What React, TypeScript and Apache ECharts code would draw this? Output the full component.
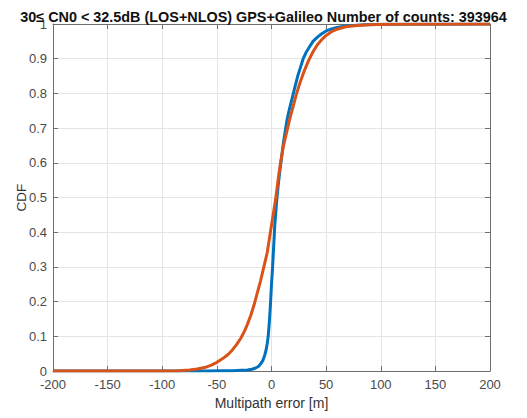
import React, { useEffect, useRef } from "react";
import * as echarts from "echarts";

const titleText = "30\u2264 CN0 < 32.5dB (LOS+NLOS) GPS+Galileo Number of counts: 393964";
const xAxisName = "Multipath error [m]";
const yAxisName = "CDF";

const blueX = [-200, -60, -45, -35, -28, -22, -18, -15, -12, -10, -8, -7, -6, -5, -4, -3, -2, -1, 0, 1, 2, 3, 4, 5, 6, 7, 8, 9, 10, 11, 12, 13, 14, 16, 18, 20, 22, 24, 26, 29, 32, 35, 38, 42, 46, 50, 55, 60, 68, 75, 85, 100, 200];
const blueY = [0, 0, 0.0005, 0.001, 0.002, 0.003, 0.005, 0.008, 0.013, 0.02, 0.03, 0.038, 0.048, 0.06, 0.078, 0.1, 0.14, 0.19, 0.25, 0.3, 0.36, 0.42, 0.46, 0.5, 0.53, 0.56, 0.585, 0.61, 0.635, 0.66, 0.68, 0.7, 0.72, 0.75, 0.775, 0.8, 0.825, 0.85, 0.87, 0.9, 0.92, 0.935, 0.95, 0.962, 0.972, 0.98, 0.986, 0.99, 0.994, 0.996, 0.998, 0.999, 1];

const orangeX = [-200, -100, -85, -75, -68, -60, -55, -50, -45, -40, -36, -32, -28, -25, -22, -19, -16, -13, -10, -7, -4, -2, 0, 2, 4, 6, 8, 11, 14, 17, 20, 23, 26, 30, 34, 38, 42, 46, 50, 55, 60, 68, 78, 90, 110, 200];
const orangeY = [0, 0, 0.001, 0.003, 0.006, 0.011, 0.017, 0.025, 0.035, 0.047, 0.06, 0.076, 0.095, 0.113, 0.135, 0.16, 0.19, 0.225, 0.26, 0.3, 0.34, 0.38, 0.42, 0.46, 0.5, 0.55, 0.595, 0.65, 0.69, 0.73, 0.765, 0.8, 0.83, 0.865, 0.895, 0.92, 0.94, 0.955, 0.967, 0.978, 0.985, 0.992, 0.996, 0.998, 0.999, 1];

const font = "Liberation Sans, Arial, Helvetica, sans-serif";
const axisColor = "#6e6e6e";
const labelColor = "#4a4a4a";

export default function App() {
  const ref = useRef<HTMLDivElement>(null);
  useEffect(() => {
    if (!ref.current) return;
    const chart = echarts.init(ref.current, null, { renderer: "svg" });
    const blue = blueX.map((x, i) => [x, blueY[i]]);
    const orange = orangeX.map((x, i) => [x, orangeY[i]]);
    const hiddenAxisCommon = {
      axisLine: { show: true, onZero: false, lineStyle: { color: axisColor, width: 1 } },
      axisTick: { show: true, inside: true, length: 5, lineStyle: { color: axisColor } },
      axisLabel: { show: false },
      splitLine: { show: false },
    };
    chart.setOption({
      animation: false,
      title: {
        text: titleText,
        left: "center",
        top: 5,
        textStyle: { fontFamily: font, fontSize: 14.4, fontWeight: "bold", color: "#111" },
      },
      grid: { left: 53, right: 37, top: 24, bottom: 47 },
      xAxis: [
        {
          type: "value",
          min: -200,
          max: 200,
          interval: 50,
          name: xAxisName,
          nameLocation: "middle",
          nameGap: 25,
          nameMoveOverlap: false,
          nameTextStyle: { fontFamily: font, fontSize: 14, color: "#333" },
          axisLine: { show: true, onZero: false, lineStyle: { color: axisColor } },
          axisTick: { show: true, inside: true, length: 5, lineStyle: { color: axisColor } },
          axisLabel: { fontFamily: font, fontSize: 13, color: labelColor, margin: 7 },
          splitLine: { show: true, lineStyle: { color: "#e4e4e4", width: 1 } },
        },
        {
          type: "value",
          position: "top",
          min: -200,
          max: 200,
          interval: 50,
          ...hiddenAxisCommon,
        },
      ],
      yAxis: [
        {
          type: "value",
          min: 0,
          max: 1,
          interval: 0.1,
          name: yAxisName,
          nameLocation: "middle",
          nameGap: 25,
          nameMoveOverlap: false,
          nameTextStyle: { fontFamily: font, fontSize: 13.5, color: "#333" },
          axisLine: { show: true, onZero: false, lineStyle: { color: axisColor } },
          axisTick: { show: true, inside: true, length: 5, lineStyle: { color: axisColor } },
          axisLabel: {
            fontFamily: font,
            fontSize: 13,
            color: labelColor,
            margin: 6,
            formatter: (v: number) => (v === 0 ? "0" : v === 1 ? "1" : v.toFixed(1)),
          },
          splitLine: { show: true, lineStyle: { color: "#e4e4e4", width: 1 } },
        },
        {
          type: "value",
          position: "right",
          min: 0,
          max: 1,
          interval: 0.1,
          ...hiddenAxisCommon,
        },
      ],
      series: [
        {
          type: "line",
          data: blue,
          showSymbol: false,
          smooth: false,
          lineStyle: { color: "#0072BD", width: 3, join: "round" },
          itemStyle: { color: "#0072BD" },
          z: 2,
        },
        {
          type: "line",
          data: orange,
          showSymbol: false,
          smooth: false,
          lineStyle: { color: "#D95319", width: 3, join: "round" },
          itemStyle: { color: "#D95319" },
          z: 3,
        },
      ],
    });
    return () => chart.dispose();
  }, []);
  return <div ref={ref} style={{ width: 527, height: 418, position: "absolute", left: 0, top: 0, background: "#fff" }} />;
}
